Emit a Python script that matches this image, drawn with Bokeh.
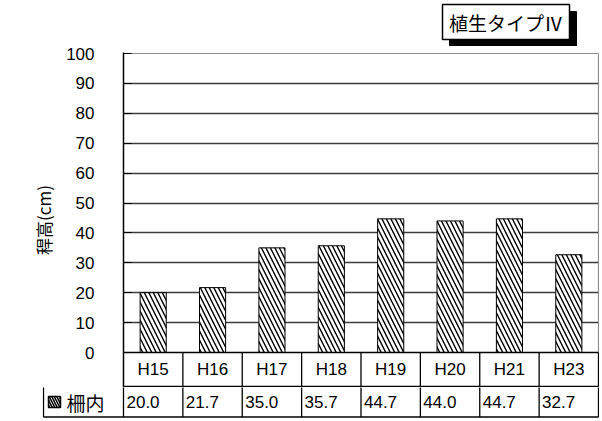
from bokeh.plotting import figure
from bokeh.models import Range1d, FixedTicker
from bokeh.layouts import column
from bokeh.embed import file_html
from bokeh.resources import INLINE
from bokeh.core.properties import value

# ---- data ----
categories = ["H15", "H16", "H17", "H18", "H19", "H20", "H21", "H23"]
heights = [20.0, 21.7, 35.0, 35.7, 44.7, 44.0, 44.7, 32.7]
y_ticks = [0, 10, 20, 30, 40, 50, 60, 70, 80, 90, 100]
series_name = "柵内"
title_text = "植生タイプⅣ"
y_label = "稈高(cm)"

LATIN = "Liberation Sans"
CJK = "Noto Sans CJK JP"
TOTAL_W = 599

n = len(categories)
centers = [i + 0.5 for i in range(n)]
value_labels = [f"{v:.1f}" for v in heights]

# ---- title box figure (pixel coordinates) ----
tt = figure(width=TOTAL_W, height=46, x_range=Range1d(0, TOTAL_W), y_range=Range1d(46, 0),
            output_backend="svg", toolbar_location=None, min_border=0,
            x_axis_location=None, y_axis_location=None)
tt.frame_align = False
tt.outline_line_color = None
tt.grid.visible = False
tt.background_fill_color = "white"
tt.border_fill_color = "white"
tt.quad(left=[449], right=[576], top=[11], bottom=[46], fill_color="black", line_color="black")
tt.quad(left=[442], right=[569], top=[4], bottom=[39], fill_color="white",
        line_color="black", line_width=1.5)
tt.text(x=[505.5], y=[22], text=[title_text], text_font=value(CJK), text_font_size="19px",
        text_align="center", text_baseline="middle", text_color="black")

# ---- chart figure (includes first table row below zero) ----
k = 2.99            # px per y unit
pxu = 475 / n       # px per category
row1_bottom = -34 / k
p = figure(width=TOTAL_W, height=341,
           x_range=Range1d(0, n + 1 / pxu),
           y_range=Range1d(-35 / k, 100 + 1 / k),
           output_backend="svg", toolbar_location=None,
           min_border_left=123, min_border_right=0, min_border_top=6, min_border_bottom=0,
           x_axis_location=None)
p.frame_align = False
p.background_fill_color = "white"
p.border_fill_color = "white"
p.outline_line_color = None

p.xgrid.visible = False
p.ygrid.ticker = FixedTicker(ticks=y_ticks[1:-1])
p.ygrid.grid_line_color = "#3c3c3c"
p.ygrid.grid_line_width = 1.3

ax = p.yaxis[0]
ax.ticker = FixedTicker(ticks=y_ticks)
ax.minor_tick_line_color = None
ax.major_tick_in = 8
ax.major_tick_out = 0
ax.major_tick_line_color = "black"
ax.axis_line_color = "black"
ax.axis_line_width = 1.5
ax.major_label_standoff = 29
ax.major_label_text_font = LATIN
ax.major_label_text_font_size = "17px"
ax.major_label_text_color = "black"
ax.axis_label = y_label
ax.axis_label_text_font = CJK
ax.axis_label_text_font_size = "17px"
ax.axis_label_text_font_style = "normal"
ax.axis_label_text_color = "black"
ax.axis_label_standoff = 7

# chart border (top and right) in gray
p.segment(x0=[0, n], y0=[100, 0], x1=[n, n], y1=[100, 100], line_color="#8c8c8c", line_width=1.2)

p.vbar(x=centers, top=heights, bottom=0, width=0.44, fill_color="white",
       line_color="black", line_width=1,
       hatch_pattern="\\", hatch_color="black", hatch_scale=9, hatch_weight=1.4)

# first table row: category names
xs = list(range(n + 1))
p.segment(x0=[0, 0], y0=[0, row1_bottom], x1=[n, n], y1=[0, row1_bottom],
          line_color="black", line_width=1.3)
p.segment(x0=xs[1:], y0=[0] * n, x1=xs[1:], y1=[row1_bottom] * n,
          line_color="black", line_width=1.3)
p.text(x=centers, y=[row1_bottom / 2] * n, text=categories,
       text_font=value(LATIN), text_font_size="17px", text_align="center",
       text_baseline="middle", text_color="black")

# ---- second table row: values ----
legend_left = -(123 - 43) / pxu
t = figure(width=TOTAL_W, height=32,
           x_range=Range1d(legend_left - 1 / pxu, n + 1 / pxu),
           y_range=Range1d(-32, 0), output_backend="svg", toolbar_location=None,
           min_border_left=42, min_border_right=0, min_border_top=0, min_border_bottom=0,
           x_axis_location=None, y_axis_location=None)
t.frame_align = False
t.outline_line_color = None
t.grid.visible = False
t.background_fill_color = "white"
t.border_fill_color = "white"

row_top, row_bot = 0.5, -29.5
t.segment(x0=[legend_left], y0=[row_bot], x1=[n], y1=[row_bot], line_color="black", line_width=1.5)
vx = [legend_left] + xs
t.segment(x0=vx, y0=[row_top] * len(vx), x1=vx, y1=[row_bot] * len(vx),
          line_color="black", line_width=1.3)
mid = (row_top + row_bot) / 2
t.text(x=[i + 0.05 for i in range(n)], y=[mid] * n, text=value_labels,
       text_font=value(LATIN), text_font_size="17px", text_align="left",
       text_baseline="middle", text_color="black")

# legend key
kx = legend_left + 5 / pxu
t.quad(left=[kx], right=[kx + 12 / pxu], top=[mid + 5.5], bottom=[mid - 5.5],
       fill_color="white", line_color="black", line_width=1.5,
       hatch_pattern="\\", hatch_color="black", hatch_scale=5, hatch_weight=1.5)
t.text(x=[kx + 18 / pxu], y=[mid], text=[series_name],
       text_font=value(CJK), text_font_size="19px", text_align="left",
       text_baseline="middle", text_color="black")

layout = column(tt, p, t, spacing=0)
open("out.html", "w").write(file_html(layout, INLINE))
